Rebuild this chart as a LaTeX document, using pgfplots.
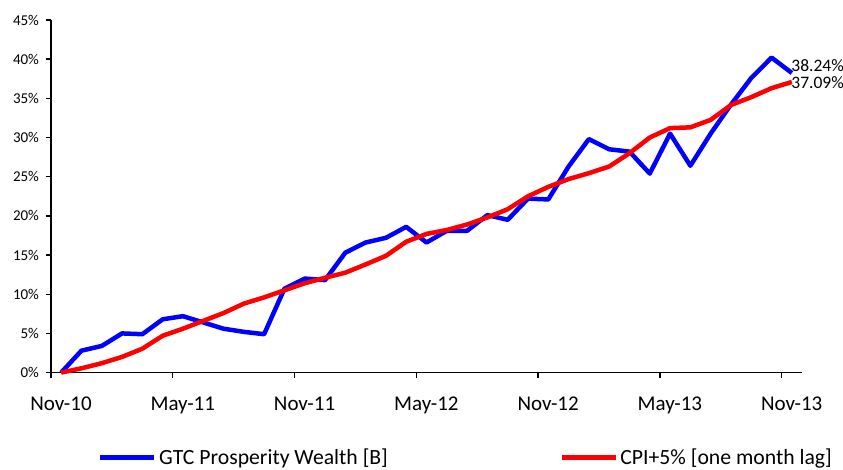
\documentclass[border=0pt]{standalone}
\usepackage{fontspec}
\setmainfont{Carlito}
\usepackage{pgfplots}
\pgfplotsset{compat=1.18}
\usepackage{pgfplotstable}

\pgfplotstableread{
m gtc cpi
0 0.0 0.0
1 2.8 0.55
2 3.4 1.2
3 5.0 2.0
4 4.9 3.05
5 6.8 4.7
6 7.2 5.6
7 6.4 6.6
8 5.6 7.6
9 5.2 8.8
10 4.9 9.6
11 10.7 10.5
12 12.0 11.4
13 11.8 12.1
14 15.3 12.75
15 16.6 13.8
16 17.2 14.9
17 18.6 16.7
18 16.6 17.7
19 18.1 18.2
20 18.1 18.9
21 20.1 19.8
22 19.5 20.85
23 22.2 22.5
24 22.1 23.7
25 26.3 24.7
26 29.8 25.45
27 28.5 26.3
28 28.2 28.0
29 25.4 30.0
30 30.5 31.2
31 26.4 31.3
32 30.5 32.25
33 34.2 34.15
34 37.6 35.15
35 40.2 36.3
36 38.24 37.09
}\data

\begin{document}
\begin{tikzpicture}[x=1pt,y=1pt]
\useasboundingbox (0,0) rectangle (843,470);
\begin{axis}[
  at={(51pt,97.4pt)}, anchor=south west,
  scale only axis, width=751pt, height=352.6pt,
  xmin=-0.5, xmax=36.5, ymin=0, ymax=45,
  axis x line=bottom, axis y line=left,
  axis line style={-, line width=1.6pt, black},
  clip=false,
  xtick={-0.5,5.5,11.5,17.5,23.5,29.5,35.5},
  xticklabels={Nov-10,May-11,Nov-11,May-12,Nov-12,May-13,Nov-13},
  xticklabel style={xshift=10pt, font=\fontsize{21}{25}\selectfont, yshift=-15pt},
  ytick={0,5,...,45},
  yticklabel={\pgfmathprintnumber{\tick}\%},
  yticklabel style={font=\fontsize{15}{18}\selectfont, xshift=-3pt},
  /pgf/number format/assume math mode=true,
  tick align=outside, major tick length=5.5pt,
  tick style={line width=1.4pt, black},
  legend style={at={(0.0626,-0.241)}, anchor=west, draw=none, fill=none,
    inner sep=0pt, font=\fontsize{21.7}{26}\selectfont,
    nodes={inner sep=2.5pt},
    /tikz/every even column/.append style={column sep=169pt}},
  legend columns=2,
  legend image code/.code={\draw[#1] (0pt,0pt) -- (54pt,0pt);},
]
\addplot[blue, line width=4.5pt, line join=round] table[x=m, y=gtc] {\data};
\addlegendentry{GTC Prosperity Wealth [B]}
\addplot[red, line width=4.5pt, line join=round] table[x=m, y=cpi] {\data};
\addlegendentry{CPI+5\% [one month lag]}
\node[anchor=west, inner sep=0pt, font=\fontsize{17.5}{20}\selectfont] at (axis cs:35.97,39.13) {38.24\%};
\node[anchor=west, inner sep=0pt, font=\fontsize{17.5}{20}\selectfont] at (axis cs:35.97,37.05) {37.09\%};
\end{axis}
\end{tikzpicture}
\end{document}
